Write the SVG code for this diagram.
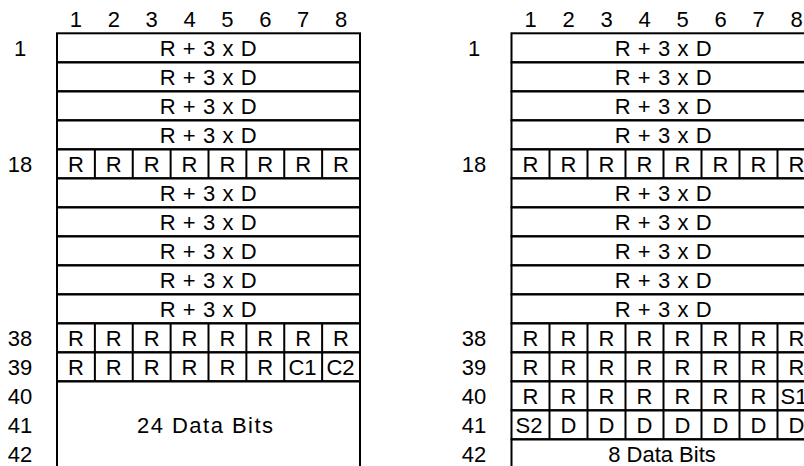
<svg xmlns="http://www.w3.org/2000/svg" width="804" height="466" viewBox="0 0 804 466">
<style>
.t{font-family:"Liberation Sans",Arial,sans-serif;font-size:22px;text-anchor:middle;fill:#000}
.m{letter-spacing:0.6px}
.b{fill:none;stroke:#000;stroke-width:2}
.d{stroke:#000;stroke-width:2}
</style>
<rect width="804" height="466" fill="#fff"/>
<defs>
<g id="lr8">
<line class="d" x1="94.875" y1="0" x2="94.875" y2="29"/>
<line class="d" x1="132.75" y1="0" x2="132.75" y2="29"/>
<line class="d" x1="170.625" y1="0" x2="170.625" y2="29"/>
<line class="d" x1="208.5" y1="0" x2="208.5" y2="29"/>
<line class="d" x1="246.375" y1="0" x2="246.375" y2="29"/>
<line class="d" x1="284.25" y1="0" x2="284.25" y2="29"/>
<line class="d" x1="322.125" y1="0" x2="322.125" y2="29"/>
</g>
<g id="rr8">
<line class="d" x1="549.5" y1="0" x2="549.5" y2="29"/>
<line class="d" x1="587.5" y1="0" x2="587.5" y2="29"/>
<line class="d" x1="625.5" y1="0" x2="625.5" y2="29"/>
<line class="d" x1="663.5" y1="0" x2="663.5" y2="29"/>
<line class="d" x1="701.5" y1="0" x2="701.5" y2="29"/>
<line class="d" x1="739.5" y1="0" x2="739.5" y2="29"/>
<line class="d" x1="777.5" y1="0" x2="777.5" y2="29"/>
</g>
</defs>

<g id="left-table">
<g id="left-col-headers">
<text class="t" x="75.94" y="27">1</text>
<text class="t" x="113.81" y="27">2</text>
<text class="t" x="151.69" y="27">3</text>
<text class="t" x="189.56" y="27">4</text>
<text class="t" x="227.44" y="27">5</text>
<text class="t" x="265.31" y="27">6</text>
<text class="t" x="303.19" y="27">7</text>
<text class="t" x="341.06" y="27">8</text>
</g>
<g id="left-row-labels">
<text class="t" x="20" y="55.7">1</text>
<text class="t" x="20" y="171.7">18</text>
<text class="t" x="20" y="345.7">38</text>
<text class="t" x="20" y="374.7">39</text>
<text class="t" x="20" y="403.7">40</text>
<text class="t" x="20" y="432.7">41</text>
<text class="t" x="20" y="461.7">42</text>
</g>
<g id="left-r1"><rect class="b" x="57" y="33.3" width="303" height="29"/><text class="t m" x="208.5" y="55.7">R + 3 x D</text></g>
<g id="left-r2"><rect class="b" x="57" y="62.3" width="303" height="29"/><text class="t m" x="208.5" y="84.7">R + 3 x D</text></g>
<g id="left-r3"><rect class="b" x="57" y="91.3" width="303" height="29"/><text class="t m" x="208.5" y="113.7">R + 3 x D</text></g>
<g id="left-r4"><rect class="b" x="57" y="120.3" width="303" height="29"/><text class="t m" x="208.5" y="142.7">R + 3 x D</text></g>
<g id="left-r18"><rect class="b" x="57" y="149.3" width="303" height="29"/><use href="#lr8" y="149.3"/>
<text class="t" x="75.94" y="171.7">R</text><text class="t" x="113.81" y="171.7">R</text><text class="t" x="151.69" y="171.7">R</text><text class="t" x="189.56" y="171.7">R</text><text class="t" x="227.44" y="171.7">R</text><text class="t" x="265.31" y="171.7">R</text><text class="t" x="303.19" y="171.7">R</text><text class="t" x="341.06" y="171.7">R</text></g>
<g id="left-r19"><rect class="b" x="57" y="178.3" width="303" height="29"/><text class="t m" x="208.5" y="200.7">R + 3 x D</text></g>
<g id="left-r20"><rect class="b" x="57" y="207.3" width="303" height="29"/><text class="t m" x="208.5" y="229.7">R + 3 x D</text></g>
<g id="left-r21"><rect class="b" x="57" y="236.3" width="303" height="29"/><text class="t m" x="208.5" y="258.7">R + 3 x D</text></g>
<g id="left-r22"><rect class="b" x="57" y="265.3" width="303" height="29"/><text class="t m" x="208.5" y="287.7">R + 3 x D</text></g>
<g id="left-r23"><rect class="b" x="57" y="294.3" width="303" height="29"/><text class="t m" x="208.5" y="316.7">R + 3 x D</text></g>
<g id="left-r38"><rect class="b" x="57" y="323.3" width="303" height="29"/><use href="#lr8" y="323.3"/>
<text class="t" x="75.94" y="345.7">R</text><text class="t" x="113.81" y="345.7">R</text><text class="t" x="151.69" y="345.7">R</text><text class="t" x="189.56" y="345.7">R</text><text class="t" x="227.44" y="345.7">R</text><text class="t" x="265.31" y="345.7">R</text><text class="t" x="303.19" y="345.7">R</text><text class="t" x="341.06" y="345.7">R</text></g>
<g id="left-r39"><rect class="b" x="57" y="352.3" width="303" height="29"/><use href="#lr8" y="352.3"/>
<text class="t" x="75.94" y="374.7">R</text><text class="t" x="113.81" y="374.7">R</text><text class="t" x="151.69" y="374.7">R</text><text class="t" x="189.56" y="374.7">R</text><text class="t" x="227.44" y="374.7">R</text><text class="t" x="265.31" y="374.7">R</text><text class="t" x="302.5" y="374.7">C1</text><text class="t" x="340.5" y="374.7">C2</text></g>
<g id="left-data"><rect class="b" x="57" y="381.3" width="303" height="87"/><text class="t" x="205" y="432.7" textLength="136" lengthAdjust="spacing">24 Data Bits</text></g>
</g>

<g id="right-table">
<g id="right-col-headers">
<text class="t" x="530.5" y="27">1</text>
<text class="t" x="568.5" y="27">2</text>
<text class="t" x="606.5" y="27">3</text>
<text class="t" x="644.5" y="27">4</text>
<text class="t" x="682.5" y="27">5</text>
<text class="t" x="720.5" y="27">6</text>
<text class="t" x="758.5" y="27">7</text>
<text class="t" x="796.5" y="27">8</text>
</g>
<g id="right-row-labels">
<text class="t" x="474" y="55.7">1</text>
<text class="t" x="474" y="171.7">18</text>
<text class="t" x="474" y="345.7">38</text>
<text class="t" x="474" y="374.7">39</text>
<text class="t" x="474" y="403.7">40</text>
<text class="t" x="474" y="432.7">41</text>
<text class="t" x="474" y="461.7">42</text>
</g>
<g id="right-r1"><rect class="b" x="511.5" y="33.3" width="304" height="29"/><text class="t m" x="663.5" y="55.7">R + 3 x D</text></g>
<g id="right-r2"><rect class="b" x="511.5" y="62.3" width="304" height="29"/><text class="t m" x="663.5" y="84.7">R + 3 x D</text></g>
<g id="right-r3"><rect class="b" x="511.5" y="91.3" width="304" height="29"/><text class="t m" x="663.5" y="113.7">R + 3 x D</text></g>
<g id="right-r4"><rect class="b" x="511.5" y="120.3" width="304" height="29"/><text class="t m" x="663.5" y="142.7">R + 3 x D</text></g>
<g id="right-r18"><rect class="b" x="511.5" y="149.3" width="304" height="29"/><use href="#rr8" y="149.3"/>
<text class="t" x="530.5" y="171.7">R</text><text class="t" x="568.5" y="171.7">R</text><text class="t" x="606.5" y="171.7">R</text><text class="t" x="644.5" y="171.7">R</text><text class="t" x="682.5" y="171.7">R</text><text class="t" x="720.5" y="171.7">R</text><text class="t" x="758.5" y="171.7">R</text><text class="t" x="796.5" y="171.7">R</text></g>
<g id="right-r19"><rect class="b" x="511.5" y="178.3" width="304" height="29"/><text class="t m" x="663.5" y="200.7">R + 3 x D</text></g>
<g id="right-r20"><rect class="b" x="511.5" y="207.3" width="304" height="29"/><text class="t m" x="663.5" y="229.7">R + 3 x D</text></g>
<g id="right-r21"><rect class="b" x="511.5" y="236.3" width="304" height="29"/><text class="t m" x="663.5" y="258.7">R + 3 x D</text></g>
<g id="right-r22"><rect class="b" x="511.5" y="265.3" width="304" height="29"/><text class="t m" x="663.5" y="287.7">R + 3 x D</text></g>
<g id="right-r23"><rect class="b" x="511.5" y="294.3" width="304" height="29"/><text class="t m" x="663.5" y="316.7">R + 3 x D</text></g>
<g id="right-r38"><rect class="b" x="511.5" y="323.3" width="304" height="29"/><use href="#rr8" y="323.3"/>
<text class="t" x="530.5" y="345.7">R</text><text class="t" x="568.5" y="345.7">R</text><text class="t" x="606.5" y="345.7">R</text><text class="t" x="644.5" y="345.7">R</text><text class="t" x="682.5" y="345.7">R</text><text class="t" x="720.5" y="345.7">R</text><text class="t" x="758.5" y="345.7">R</text><text class="t" x="796.5" y="345.7">R</text></g>
<g id="right-r39"><rect class="b" x="511.5" y="352.3" width="304" height="29"/><use href="#rr8" y="352.3"/>
<text class="t" x="530.5" y="374.7">R</text><text class="t" x="568.5" y="374.7">R</text><text class="t" x="606.5" y="374.7">R</text><text class="t" x="644.5" y="374.7">R</text><text class="t" x="682.5" y="374.7">R</text><text class="t" x="720.5" y="374.7">R</text><text class="t" x="758.5" y="374.7">R</text><text class="t" x="796.5" y="374.7">R</text></g>
<g id="right-r40"><rect class="b" x="511.5" y="381.3" width="304" height="29"/><use href="#rr8" y="381.3"/>
<text class="t" x="530.5" y="403.7">R</text><text class="t" x="568.5" y="403.7">R</text><text class="t" x="606.5" y="403.7">R</text><text class="t" x="644.5" y="403.7">R</text><text class="t" x="682.5" y="403.7">R</text><text class="t" x="720.5" y="403.7">R</text><text class="t" x="758.5" y="403.7">R</text><text class="t" x="794" y="403.7">S1</text></g>
<g id="right-r41"><rect class="b" x="511.5" y="410.3" width="304" height="29"/><use href="#rr8" y="410.3"/>
<text class="t" x="529" y="432.7">S2</text><text class="t" x="568.5" y="432.7">D</text><text class="t" x="606.5" y="432.7">D</text><text class="t" x="644.5" y="432.7">D</text><text class="t" x="682.5" y="432.7">D</text><text class="t" x="720.5" y="432.7">D</text><text class="t" x="758.5" y="432.7">D</text><text class="t" x="796.5" y="432.7">D</text></g>
<g id="right-data"><rect class="b" x="511.5" y="439.3" width="304" height="29"/><text class="t" x="662" y="461.7">8 Data Bits</text></g>
</g>
</svg>
